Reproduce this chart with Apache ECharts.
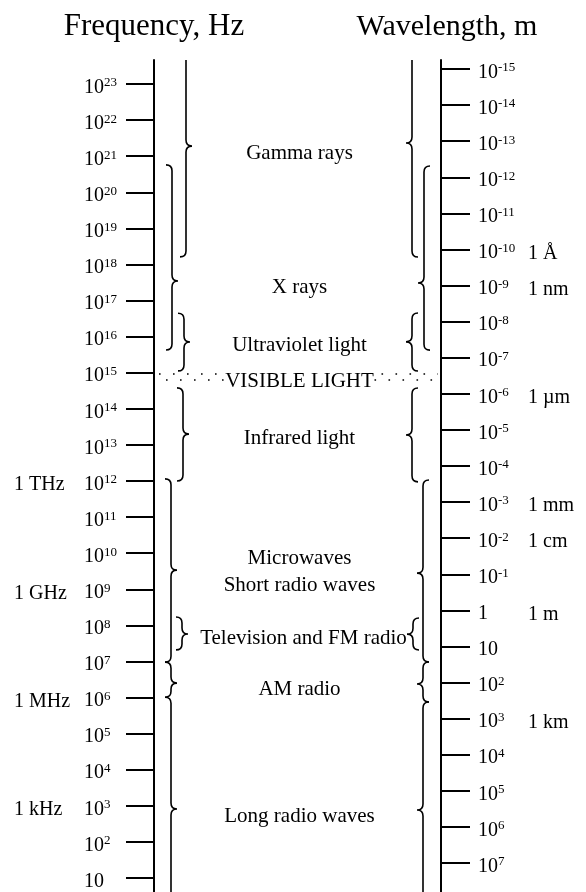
<!DOCTYPE html>
<html>
<head>
<meta charset="utf-8">
<title>Electromagnetic spectrum</title>
<script src="https://cdn.jsdelivr.net/npm/echarts@6/dist/echarts.min.js"></script>
<style>
  html, body { margin: 0; padding: 0; background: #fff; }
  #chart { width: 586px; height: 892px; }
</style>
</head>
<body>
<div id="chart"></div>
<script>
// all values are exponents of ten
const freqTicks = [1, 2, 3, 4, 5, 6, 7, 8, 9, 10, 11, 12, 13, 14, 15, 16, 17, 18, 19, 20, 21, 22, 23];
const waveTicks = [-15, -14, -13, -12, -11, -10, -9, -8, -7, -6, -5, -4, -3, -2, -1, 0, 1, 2, 3, 4, 5, 6, 7];
const freqUnitValues = [12, 9, 6, 3];
const freqUnitNames = ['1 THz', '1 GHz', '1 MHz', '1 kHz'];
const waveUnitValues = [-10, -9, -6, -3, -2, 0, 3];
const waveUnitNames = ['1 Å', '1 nm', '1 µm', '1 mm', '1 cm', '1 m', '1 km'];

const bandNames = ['Gamma rays', 'X rays', 'Ultraviolet light', 'VISIBLE LIGHT', 'Infrared light',
  'Microwaves', 'Short radio waves', 'Television and FM radio', 'AM radio', 'Long radio waves'];
const bandLabelFreq = [21.12, 17.43, 15.82, 14.80, 13.22, 9.92, 9.15, 7.68, 6.29, 2.77];
const visibleFreq = [14.88];

// braces: [start, tip, end]
const freqBraces = [
  [24.4, 21.28, 18.21],
  [20.76, 17.54, 15.63],
  [16.65, 15.85, 15.05],
  [14.58, 13.30, 12.00],
  [12.06, 9.53, 6.98],
  [8.23, 7.76, 7.32],
  [6.98, 6.40, 6.01],
  [6.01, 2.91, -0.4]
];
const waveBraces = [
  [-15.8, -12.95, -9.79],
  [-12.31, -9.07, -7.21],
  [-8.24, -7.44, -6.63],
  [-6.16, -4.86, -3.56],
  [-3.61, -1.03, 1.43],
  [0.21, 0.66, 1.10],
  [1.43, 2.04, 2.54],
  [2.54, 5.53, 8.6]
];

// layout: brace columns, px away from their axis
const freqBraceCol = [32, 18, 30, 29, 17, 28, 17, 17];
const waveBraceCol = [29, 17, 29, 29, 18, 28, 18, 18];

const serif = '"Liberation Serif", "Times New Roman", serif';
const black = '#000';

const rich = {
  b: { fontSize: 20, fontFamily: serif, color: black, lineHeight: 22 },
  s: { fontSize: 13, fontFamily: serif, color: black, lineHeight: 14, verticalAlign: 'top' }
};
const unitRich = {
  u: { fontSize: 20, fontFamily: serif, color: black, lineHeight: 22, padding: [8, 0, 0, 0] }
};

function powLabel(v) {
  if (v === 0) return '{b|1}';
  if (v === 1) return '{b|10}';
  return '{b|10}{s|' + v + '}';
}

function bracePath(x, d, yTop, yTip, yBot) {
  const h = 6, t = 6, r = 6;
  return 'M' + (x - d * h) + ' ' + yTop +
    ' Q' + x + ' ' + yTop + ' ' + x + ' ' + (yTop + r) +
    ' L' + x + ' ' + (yTip - r) +
    ' Q' + x + ' ' + yTip + ' ' + (x + d * t) + ' ' + yTip +
    ' Q' + x + ' ' + yTip + ' ' + x + ' ' + (yTip + r) +
    ' L' + x + ' ' + (yBot - r) +
    ' Q' + x + ' ' + yBot + ' ' + (x - d * h) + ' ' + yBot;
}

function braceRender(cols, side) {
  return function (params, api) {
    const yTop = api.coord([0, api.value(0)])[1];
    const yTip = api.coord([0, api.value(1)])[1];
    const yBot = api.coord([0, api.value(2)])[1];
    const d = side === 'left' ? 1 : -1;
    const axisX = api.coord([side === 'left' ? 0 : 1, api.value(1)])[0];
    const x = axisX + d * cols[params.dataIndex];
    return {
      type: 'path',
      shape: { pathData: bracePath(x, d, yTop, yTip, yBot) },
      style: { fill: 'none', stroke: black, lineWidth: 1.6 }
    };
  };
}

const chart = echarts.init(document.getElementById('chart'));

const baseAxis = {
  type: 'value',
  splitLine: { show: false },
  axisLine: { show: true, lineStyle: { color: black, width: 2 } }
};

chart.setOption({
  backgroundColor: '#fff',
  animation: false,
  grid: { left: 154, right: 145, top: 60, bottom: 0, outerBoundsMode: 'none' },
  xAxis: { type: 'value', min: 0, max: 1, show: false },
  yAxis: [
    Object.assign({}, baseAxis, {
      position: 'left',
      min: 0.612, max: 23.665,
      name: 'Frequency, Hz', nameLocation: 'end', nameGap: 18,
      nameTextStyle: { fontSize: 31, fontFamily: serif, color: black },
      axisTick: { show: true, customValues: freqTicks, length: 28, lineStyle: { color: black, width: 2 } },
      axisLabel: { customValues: freqTicks, formatter: powLabel, rich: rich, align: 'left', margin: 70, padding: [7, 0, 0, 0] }
    }),
    Object.assign({}, baseAxis, {
      position: 'right', inverse: true,
      min: -15.249, max: 7.804,
      name: 'Wavelength, m', nameLocation: 'start', nameGap: 18,
      nameTextStyle: { fontSize: 30, fontFamily: serif, color: black, padding: [0, 0, 0, 12] },
      axisTick: { show: true, customValues: waveTicks, length: 29, lineStyle: { color: black, width: 2 } },
      axisLabel: { customValues: waveTicks, formatter: powLabel, rich: rich, align: 'left', margin: 37, padding: [7, 0, 0, 0] }
    }),
    {
      type: 'value', position: 'left', min: 0.612, max: 23.665,
      axisLine: { show: false }, axisTick: { show: false }, splitLine: { show: false },
      axisLabel: {
        customValues: freqUnitValues,
        formatter: function (v) { return '{u|' + freqUnitNames[freqUnitValues.indexOf(v)] + '}'; },
        rich: unitRich, align: 'left', margin: 140
      }
    },
    {
      type: 'value', position: 'right', inverse: true, min: -15.249, max: 7.804,
      axisLine: { show: false }, axisTick: { show: false }, splitLine: { show: false },
      axisLabel: {
        customValues: waveUnitValues,
        formatter: function (v) { return '{u|' + waveUnitNames[waveUnitValues.indexOf(v)] + '}'; },
        rich: unitRich, align: 'left', margin: 87
      }
    }
  ],
  series: [
    {
      type: 'custom', name: 'frequency braces', xAxisIndex: 0, yAxisIndex: 0, clip: true,
      renderItem: braceRender(freqBraceCol, 'left'),
      data: freqBraces
    },
    {
      type: 'custom', name: 'wavelength braces', xAxisIndex: 0, yAxisIndex: 1, clip: true,
      renderItem: braceRender(waveBraceCol, 'right'),
      data: waveBraces
    },
    {
      type: 'custom', name: 'visible', xAxisIndex: 0, yAxisIndex: 0,
      renderItem: function (params, api) {
        const p0 = api.coord([0, api.value(0)]);
        const p1 = api.coord([1, api.value(0)]);
        const mid = (p0[0] + p1[0]) / 2 + 2;
        const dot = { stroke: black, lineWidth: 1.6, lineDash: [1.6, 12.4] };
        function row(xa, xb, dy, off) {
          return { type: 'line', shape: { x1: xa, y1: p0[1] + dy, x2: xb, y2: p0[1] + dy },
            style: Object.assign({ lineDashOffset: off }, dot) };
        }
        return {
          type: 'group',
          children: [
            row(p0[0] + 5, mid - 74, -3, 0), row(p0[0] + 5, mid - 74, 3, 7),
            row(mid + 75, p1[0] - 3, -3, 7), row(mid + 75, p1[0] - 3, 3, 0)
          ]
        };
      },
      data: visibleFreq.map(function (v) { return [v]; })
    },
    {
      type: 'custom', name: 'bands', xAxisIndex: 0, yAxisIndex: 0,
      renderItem: function (params, api) {
        const p0 = api.coord([0, api.value(0)]);
        const p1 = api.coord([1, api.value(0)]);
        const name = bandNames[params.dataIndex];
        const shift = name.indexOf('Television') === 0 ? 6 : 2;
        return {
          type: 'text',
          x: (p0[0] + p1[0]) / 2 + shift,
          y: p0[1] + 2,
          style: {
            text: name, fill: black,
            font: '21px ' + serif,
            align: 'center', verticalAlign: 'middle',
            textAlign: 'center', textVerticalAlign: 'middle'
          }
        };
      },
      data: bandLabelFreq.map(function (v) { return [v]; })
    }
  ]
});
</script>
</body>
</html>
